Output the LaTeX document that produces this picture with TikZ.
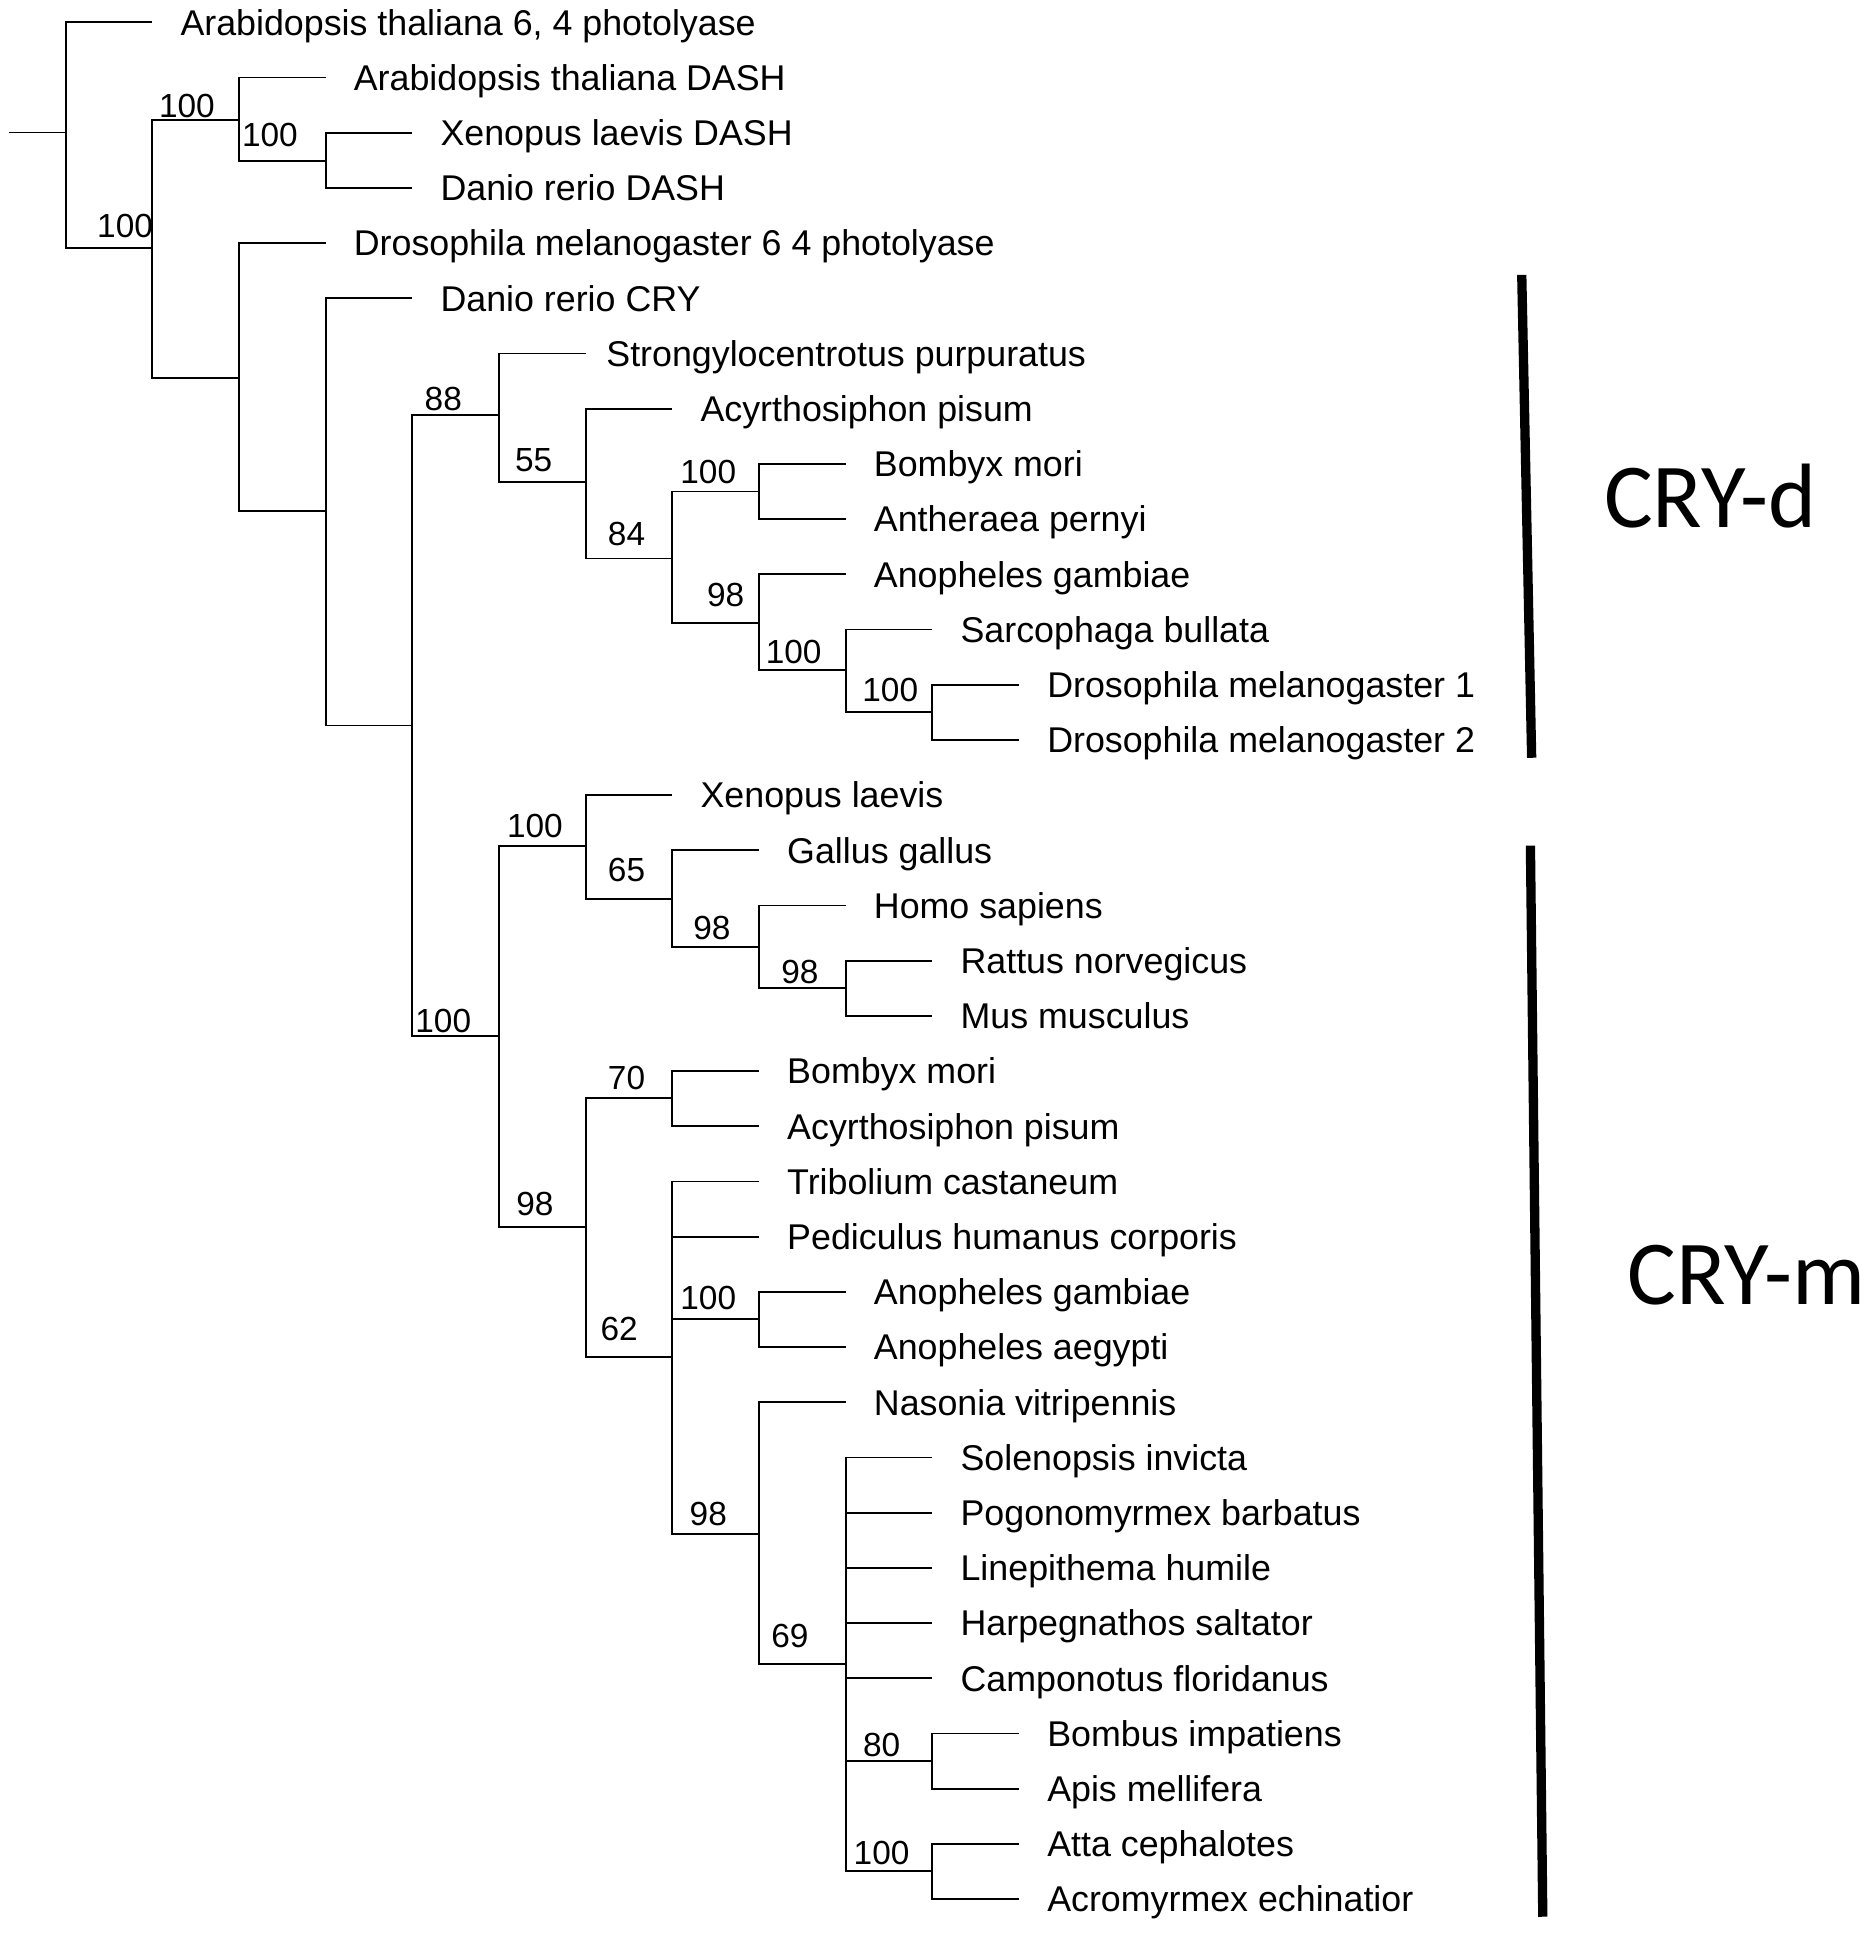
\documentclass[tikz,border=0pt]{standalone}
\usepackage{fontspec}
\setmainfont{Liberation Sans}
\newfontfamily\cladefont{Carlito}
\begin{document}
\begin{tikzpicture}[x=0.01238cm, y=-0.01238cm,
		branch/.style={line width=0.5pt},
		leaf/.style={anchor=west, inner xsep=2.75mm, inner ysep=0pt, text height=7.3pt, text depth=0pt, font=\fontsize{10.18pt}{12pt}\selectfont},
		boot/.style={inner sep=0pt, text height=6.8pt, text depth=0pt, font=\fontsize{9.5pt}{11pt}\selectfont},
		clade/.style={anchor=west, inner sep=0pt, text height=16.7pt, text depth=0pt, font=\cladefont\fontsize{26pt}{30pt}\selectfont},
		cladebar/.style={line width=0.93mm}]
		\useasboundingbox (0, 0) rectangle (1509, 1566);
		
		% inner nodes
		\coordinate (stub) at (7, 107);
		\coordinate (n1) at (53, 107);
		\coordinate (n2) at (123, 200);
		\coordinate (n3) at (193, 97);
		\coordinate (n4) at (263, 130);
		\coordinate (n5) at (193, 305);
		\coordinate (n6) at (263, 413);
		\coordinate (n7) at (333, 586);
		\coordinate (n8) at (403, 335);
		\coordinate (n9) at (473, 389);
		\coordinate (n10) at (543, 451);
		\coordinate (n11) at (613, 397);
		\coordinate (n12) at (613, 503);
		\coordinate (n13) at (683, 541);
		\coordinate (n14) at (753, 575);
		\coordinate (n15) at (403, 837);
		\coordinate (n16) at (473, 683);
		\coordinate (n17) at (543, 726);
		\coordinate (n18) at (613, 765);
		\coordinate (n19) at (683, 798);
		\coordinate (n20) at (473, 991);
		\coordinate (n21) at (543, 887);
		\coordinate (n22) at (543, 1096);
		\coordinate (n23) at (613, 1065);
		\coordinate (n24) at (613, 1239);
		\coordinate (n25) at (683, 1344);
		\coordinate (n26) at (753, 1422);
		\coordinate (n27) at (753, 1511);
		
		% bootstrap values
		\node[boot] (b2) at (101, 182) {100};
		\node[boot] (b3) at (151, 85) {100};
		\node[boot] (b4) at (218, 109) {100};
		\node[boot] (b8) at (358, 322) {88};
		\node[boot] (b9) at (431, 371) {55};
		\node[boot] (b10) at (506, 431) {84};
		\node[boot] (b11) at (572, 381) {100};
		\node[boot] (b12) at (586, 480) {98};
		\node[boot] (b13) at (641, 526) {100};
		\node[boot] (b14) at (719, 557) {100};
		\node[boot] (b15) at (358, 824) {100};
		\node[boot] (b16) at (432, 667) {100};
		\node[boot] (b17) at (506, 702) {65};
		\node[boot] (b18) at (575, 749) {98};
		\node[boot] (b19) at (646, 785) {98};
		\node[boot] (b20) at (432, 972) {98};
		\node[boot] (b21) at (506, 870) {70};
		\node[boot] (b22) at (500, 1073) {62};
		\node[boot] (b23) at (572, 1048) {100};
		\node[boot] (b24) at (572, 1222) {98};
		\node[boot] (b25) at (638, 1321) {69};
		\node[boot] (b26) at (712, 1409) {80};
		\node[boot] (b27) at (712, 1496) {100};
		
		% leaves
		\node[leaf] (l1) at (123, 18.0) {Arabidopsis thaliana 6, 4 photolyase};
		\node[leaf] (l2) at (263, 62.6) {Arabidopsis thaliana DASH};
		\node[leaf] (l3) at (333, 107.2) {Xenopus laevis DASH};
		\node[leaf] (l4) at (333, 151.7) {Danio rerio DASH};
		\node[leaf] (l5) at (263, 196.3) {Drosophila melanogaster 6 4 photolyase};
		\node[leaf] (l6) at (333, 240.9) {Danio rerio CRY};
		\node[leaf, inner xsep=2mm] (l7) at (473, 285.5) {Strongylocentrotus purpuratus};
		\node[leaf] (l8) at (543, 330.1) {Acyrthosiphon pisum};
		\node[leaf] (l9) at (683, 374.6) {Bombyx mori};
		\node[leaf] (l10) at (683, 419.2) {Antheraea pernyi};
		\node[leaf] (l11) at (683, 463.8) {Anopheles gambiae};
		\node[leaf] (l12) at (753, 508.4) {Sarcophaga bullata};
		\node[leaf] (l13) at (823, 553.0) {Drosophila melanogaster 1};
		\node[leaf] (l14) at (823, 597.5) {Drosophila melanogaster 2};
		\node[leaf] (l15) at (543, 642.1) {Xenopus laevis};
		\node[leaf] (l16) at (613, 686.7) {Gallus gallus};
		\node[leaf] (l17) at (683, 731.3) {Homo sapiens};
		\node[leaf] (l18) at (753, 775.9) {Rattus norvegicus};
		\node[leaf] (l19) at (753, 820.4) {Mus musculus};
		\node[leaf] (l20) at (613, 865.0) {Bombyx mori};
		\node[leaf] (l21) at (613, 909.6) {Acyrthosiphon pisum};
		\node[leaf] (l22) at (613, 954.2) {Tribolium castaneum};
		\node[leaf] (l23) at (613, 998.8) {Pediculus humanus corporis};
		\node[leaf] (l24) at (683, 1043.3) {Anopheles gambiae};
		\node[leaf] (l25) at (683, 1087.9) {Anopheles aegypti};
		\node[leaf] (l26) at (683, 1132.5) {Nasonia vitripennis};
		\node[leaf] (l27) at (753, 1177.1) {Solenopsis invicta};
		\node[leaf] (l28) at (753, 1221.7) {Pogonomyrmex barbatus};
		\node[leaf] (l29) at (753, 1266.2) {Linepithema humile};
		\node[leaf] (l30) at (753, 1310.8) {Harpegnathos saltator};
		\node[leaf] (l31) at (753, 1355.4) {Camponotus floridanus};
		\node[leaf] (l32) at (823, 1400.0) {Bombus impatiens};
		\node[leaf] (l33) at (823, 1444.6) {Apis mellifera};
		\node[leaf] (l34) at (823, 1489.1) {Atta cephalotes};
		\node[leaf] (l35) at (823, 1533.7) {Acromyrmex echinatior};
		
		% branches
		\draw[branch] (stub) -- (n1);
		\draw[branch] (n1) |- (l1.west);
		\draw[branch] (n1) |- (n2);
		\draw[branch] (n2) |- (n3);
		\draw[branch] (n2) |- (n5);
		\draw[branch] (n3) |- (l2.west);
		\draw[branch] (n3) |- (n4);
		\draw[branch] (n4) |- (l3.west);
		\draw[branch] (n4) |- (l4.west);
		\draw[branch] (n5) |- (l5.west);
		\draw[branch] (n5) |- (n6);
		\draw[branch] (n6) |- (l6.west);
		\draw[branch] (n6) |- (n7);
		\draw[branch] (n7) |- (n8);
		\draw[branch] (n7) |- (n15);
		\draw[branch] (n8) |- (l7.west);
		\draw[branch] (n8) |- (n9);
		\draw[branch] (n9) |- (l8.west);
		\draw[branch] (n9) |- (n10);
		\draw[branch] (n10) |- (n11);
		\draw[branch] (n10) |- (n12);
		\draw[branch] (n11) |- (l9.west);
		\draw[branch] (n11) |- (l10.west);
		\draw[branch] (n12) |- (l11.west);
		\draw[branch] (n12) |- (n13);
		\draw[branch] (n13) |- (l12.west);
		\draw[branch] (n13) |- (n14);
		\draw[branch] (n14) |- (l13.west);
		\draw[branch] (n14) |- (l14.west);
		\draw[branch] (n15) |- (n16);
		\draw[branch] (n15) |- (n20);
		\draw[branch] (n16) |- (l15.west);
		\draw[branch] (n16) |- (n17);
		\draw[branch] (n17) |- (l16.west);
		\draw[branch] (n17) |- (n18);
		\draw[branch] (n18) |- (l17.west);
		\draw[branch] (n18) |- (n19);
		\draw[branch] (n19) |- (l18.west);
		\draw[branch] (n19) |- (l19.west);
		\draw[branch] (n20) |- (n21);
		\draw[branch] (n20) |- (n22);
		\draw[branch] (n21) |- (l20.west);
		\draw[branch] (n21) |- (l21.west);
		\draw[branch] (n22) |- (l22.west);
		\draw[branch] (n22) |- (l23.west);
		\draw[branch] (n22) |- (n23);
		\draw[branch] (n22) |- (n24);
		\draw[branch] (n23) |- (l24.west);
		\draw[branch] (n23) |- (l25.west);
		\draw[branch] (n24) |- (l26.west);
		\draw[branch] (n24) |- (n25);
		\draw[branch] (n25) |- (l27.west);
		\draw[branch] (n25) |- (l28.west);
		\draw[branch] (n25) |- (l29.west);
		\draw[branch] (n25) |- (l30.west);
		\draw[branch] (n25) |- (l31.west);
		\draw[branch] (n25) |- (n26);
		\draw[branch] (n25) |- (n27);
		\draw[branch] (n26) |- (l32.west);
		\draw[branch] (n26) |- (l33.west);
		\draw[branch] (n27) |- (l34.west);
		\draw[branch] (n27) |- (l35.west);
		
		% clade bars
		\coordinate (dtop) at (1229, 222);
		\coordinate (dbot) at (1237, 612);
		\draw[cladebar] (dtop) -- (dbot);
		\node[clade] (cryd) at (1295, 402) {CRY-d};
		
		\coordinate (mtop) at (1236, 683);
		\coordinate (mbot) at (1246, 1548);
		\draw[cladebar] (mtop) -- (mbot);
		\node[clade] (crym) at (1314, 1030) {CRY-m};
	\end{tikzpicture}
\end{document}
